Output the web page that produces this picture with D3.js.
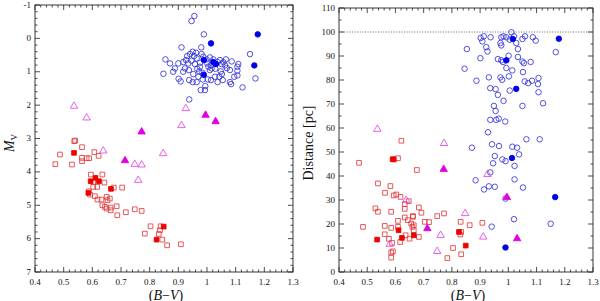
<!DOCTYPE html>
<html>
<head>
<meta charset="utf-8">
<script src="https://cdn.jsdelivr.net/npm/d3@7"></script>
<style>
  body { margin: 0; background: #fff; }
  svg { display: block; }
  .tick-label { font-family: "Liberation Serif", "DejaVu Serif", serif; font-size: 9px; fill: #111; }
  .axis-title { font-family: "Liberation Serif", "DejaVu Serif", serif; font-size: 14px; fill: #111; }
</style>
</head>
<body>
<svg id="chart" width="600" height="301"></svg>
<script>
// x ticks shared by both panels
const bvTicks = [0.4, 0.5, 0.6, 0.7, 0.8, 0.9, 1.0, 1.1, 1.2, 1.3];
const mvTicks = [-1, 0, 1, 2, 3, 4, 5, 6, 7];
const distTicks = [0, 10, 20, 30, 40, 50, 60, 70, 80, 90, 100, 110];

// left panel: [B-V, Mv]
const giantsMv = [
  [0.956,-0.67],[0.946,-0.52],[0.989,-0.12],[0.980,0.27],[0.911,0.27],[1.150,0.47],[1.169,1.20],[1.124,1.47],
  [0.950,0.40],[0.962,0.43],[0.941,0.47],[0.931,0.53],[0.981,0.47],[1.010,0.57],[1.022,0.63],[1.045,0.65],
  [1.066,0.63],[1.086,0.69],[1.057,0.71],[0.855,0.63],[0.871,0.75],[0.900,0.75],[0.917,0.71],[0.927,0.65],
  [0.935,0.75],[0.946,0.67],[0.958,0.77],[0.976,0.73],[1.001,0.75],[1.013,0.81],[1.037,0.71],[1.051,0.77],
  [1.109,0.77],[1.106,0.85],[0.888,0.90],[0.848,1.06],[0.923,0.90],[0.937,0.95],[0.966,0.91],[0.973,0.99],
  [0.984,1.03],[1.010,0.95],[1.029,0.91],[1.048,0.99],[1.069,0.89],[1.052,1.07],[1.095,1.15],[1.106,1.11],
  [1.080,1.31],[1.084,1.37],[0.901,1.21],[0.908,1.29],[0.938,1.25],[0.950,1.31],[0.964,1.31],[0.985,1.23],
  [1.003,1.23],[1.014,1.25],[1.037,1.31],[1.055,1.25],[0.978,1.55],[0.993,1.55],[0.994,1.43],[0.938,1.83],
  [0.964,0.60],[0.955,0.53],[0.987,0.55],[0.999,0.63],[1.005,0.85],[0.975,0.85],[1.016,0.90],[1.063,0.81],
  [1.080,0.95],[1.106,0.97],[1.043,1.15],[1.028,1.15],[0.970,1.15],[0.952,1.07],[0.917,1.00],[0.882,1.00]
];
const giantsFilledMv = [[1.014,0.15],[1.177,-0.12],[1.165,0.81],[0.989,0.65],[1.022,0.71],[1.031,0.77],[0.989,1.09]];
const subgiantsMv = [[0.536,2.03],[0.580,2.38],[0.926,2.10],[0.911,2.61],[0.638,3.37],[0.748,3.77],[0.772,3.79],[0.760,4.25],[0.847,3.45]];
const subgiantsFilledMv = [[0.772,2.80],[0.714,3.66],[0.995,2.30],[1.030,2.49]];
const dwarfsMv = [
  [0.537,3.08],[0.540,3.06],[0.487,3.48],[0.471,3.77],[0.529,3.78],[0.564,3.26],[0.564,3.58],[0.564,3.68],
  [0.580,3.59],[0.589,3.59],[0.607,3.41],[0.622,3.52],
  [0.595,4.08],[0.635,4.08],[0.642,4.32],[0.603,4.30],[0.617,4.45],[0.603,4.45],[0.675,4.47],[0.704,4.47],
  [0.588,4.58],[0.592,4.68],[0.609,4.73],[0.618,4.83],[0.632,4.83],[0.650,4.75],[0.653,4.85],[0.661,4.80],
  [0.635,5.00],[0.644,5.05],[0.650,5.10],[0.664,5.07],[0.664,5.15],[0.685,5.03],[0.687,5.30],[0.717,5.21],
  [0.748,5.12],[0.772,5.17],
  [0.803,5.63],[0.783,5.85],[0.838,5.63],[0.836,5.75],[0.832,5.86],[0.844,6.03],[0.861,6.20],[0.909,6.17]
];
const dwarfsFilledMv = [[0.536,3.43],[0.611,4.18],[0.594,4.28],[0.623,4.28],[0.665,4.51],[0.586,4.63],[0.849,5.64],[0.824,6.03]];

// right panel: [B-V, distance in pc]
const giantsDist = [
  [0.902,97.5],[0.908,96.1],[0.913,98.2],[0.937,97.8],[0.975,97.8],[0.983,98.2],[0.993,97.8],[1.011,99.9],
  [1.020,98.2],[1.005,96.8],[1.028,95.4],[1.050,97.1],[1.059,98.2],[1.087,97.8],[1.097,96.4],[1.168,91.6],
  [0.853,92.9],[0.922,93.7],[0.926,91.9],[0.972,95.4],[0.975,94.4],[1.034,92.9],[0.901,89.1],[0.963,88.7],
  [0.975,88.2],[0.981,87.5],[1.001,90.1],[1.034,89.6],[1.050,87.7],[1.055,87.0],[1.079,87.5],[0.845,84.7],
  [0.993,85.0],[1.014,84.0],[1.052,83.3],[0.887,79.7],[0.931,81.1],[0.972,81.1],[0.978,80.1],[1.002,81.5],
  [1.058,79.4],[1.070,78.7],[1.084,79.7],[1.107,80.8],[1.105,78.3],[0.936,76.6],[0.955,76.2],[0.963,73.8],
  [1.005,75.6],[1.107,74.9],[0.983,71.3],[0.949,69.2],[0.955,67.1],[1.050,69.2],[1.123,70.3],[0.936,63.4],
  [0.957,63.4],[0.966,63.9],[0.989,62.7],[0.928,58.2],[0.942,53.2],[0.967,52.5],[1.014,52.2],[1.031,51.8],
  [1.064,55.3],[1.111,55.3],[0.871,51.8],[1.038,49.0],[0.952,48.3],[0.946,45.3],[0.979,46.9],[0.990,46.2],
  [1.022,44.2],[0.936,41.5],[0.884,38.2],[1.022,38.6],[0.914,34.4],[0.931,35.7],[0.952,35.5],[1.052,35.2],
  [0.990,30.6],[1.020,22.0],[1.150,20.1],[0.941,18.9]
];
const giantsFilledDist = [[1.179,97.2],[0.993,88.2],[1.016,97.1],[1.028,76.3],[1.013,47.5],[1.166,31.2],[0.990,10.2]];
const subgiantsDist = [[0.536,59.5],[0.580,11.6],[0.926,40.7],[0.911,14.6],[0.638,29.9],[0.748,8.6],[0.772,53.6],[0.760,15.3],[0.847,24.4]];
const subgiantsFilledDist = [[0.771,42.8],[0.713,18.1],[0.995,31.1],[1.031,13.9]];
const dwarfsDist = [
  [0.621,54.7],[0.471,45.5],[0.609,47.4],[0.676,42.5],[0.538,36.9],[0.582,35.8],[0.563,33.0],[0.603,32.3],
  [0.618,31.3],[0.594,31.9],[0.647,29.5],[0.633,28.3],[0.633,26.3],[0.529,26.5],[0.538,25.1],[0.585,25.1],
  [0.683,26.9],[0.662,23.3],[0.633,22.7],[0.644,21.6],[0.609,21.3],[0.656,20.2],[0.665,19.5],[0.692,24.7],
  [0.704,20.9],[0.719,20.8],[0.748,23.3],[0.772,24.4],[0.485,18.8],[0.562,19.2],[0.585,18.4],[0.609,18.8],
  [0.660,18.8],[0.665,17.4],[0.562,15.7],[0.577,13.8],[0.636,15.3],[0.650,13.9],[0.683,14.6],[0.617,12.5],
  [0.588,12.1],[0.591,8.6],[0.585,8.1],[0.585,6.0],[0.804,10.0],[0.784,5.8],[0.833,7.4],[0.833,16.7],
  [0.830,15.6],[0.831,20.9],[0.863,19.5],[0.908,20.5],[0.662,23.0]
];
const dwarfsFilledDist = [[0.594,46.9],[0.590,47.0],[0.611,17.4],[0.535,13.5],[0.665,15.3],[0.623,14.2],[0.825,16.7],[0.849,11.0]];

const distLimit = 100;

const svg = d3.select("#chart");

const styles = {
    circleOpen:   { shape: "circle",   fill: "none",    stroke: "#3434d8" },
    circleFilled: { shape: "circle",   fill: "#0000ee", stroke: "#0000ee" },
    triOpen:      { shape: "triangle", fill: "none",    stroke: "#e048e8" },
    triFilled:    { shape: "triangle", fill: "#e000e0", stroke: "#e000e0" },
    sqOpen:       { shape: "square",   fill: "none",    stroke: "#e23c3c" },
    sqFilled:     { shape: "square",   fill: "#ee0000", stroke: "#ee0000" }
};

const symbols = {
    circle: d3.symbol(d3.symbolCircle, 24)(),
    square: d3.symbol(d3.symbolSquare, 22)(),
    triangle: d3.symbol(d3.symbolTriangle, 24)()
};

function drawPanel(opts) {
    const x = d3.scaleLinear().domain([0.4, 1.3]).range([opts.left, opts.right]);
    const y = d3.scaleLinear().domain(opts.yDomain).range([opts.bottom, opts.top]);
    const g = svg.append("g");

    const xMinor = d3.range(0, 46).map(i => 0.4 + i * 0.02);
    const yMinor = d3.range(0, opts.yMinorCount + 1).map(i => opts.yDomain[0] + i * opts.yMinorStep);

    const ticks = g.append("g").attr("stroke", "#222").attr("stroke-width", 0.8);
    const tickLen = (major) => major ? 5 : 2.5;

    xMinor.forEach((v, i) => {
        const L = tickLen(i % 5 === 0);
        const px = x(v);
        ticks.append("line").attr("x1", px).attr("x2", px).attr("y1", opts.bottom).attr("y2", opts.bottom - L);
        ticks.append("line").attr("x1", px).attr("x2", px).attr("y1", opts.top).attr("y2", opts.top + L);
    });
    yMinor.forEach((v, i) => {
        const L = tickLen(i % opts.yMinorPerMajor === 0);
        const py = y(v);
        ticks.append("line").attr("x1", opts.left).attr("x2", opts.left + L).attr("y1", py).attr("y2", py);
        ticks.append("line").attr("x1", opts.right).attr("x2", opts.right - L).attr("y1", py).attr("y2", py);
    });

    g.append("rect")
        .attr("x", opts.left).attr("y", opts.top)
        .attr("width", opts.right - opts.left).attr("height", opts.bottom - opts.top)
        .attr("fill", "none").attr("stroke", "#222").attr("stroke-width", 0.9);

    g.selectAll(".xl").data(bvTicks).enter().append("text")
        .attr("class", "tick-label")
        .attr("x", d => x(d)).attr("y", opts.bottom + 13)
        .attr("text-anchor", "middle")
        .text(d => String(+d.toFixed(1)));

    g.selectAll(".yl").data(opts.yTicks).enter().append("text")
        .attr("class", "tick-label")
        .attr("x", opts.left - 4).attr("y", d => y(d) + 2.5)
        .attr("text-anchor", "end")
        .text(d => d);

    if (opts.dotted != null) {
        g.append("line")
            .attr("x1", opts.left).attr("x2", opts.right)
            .attr("y1", y(opts.dotted)).attr("y2", y(opts.dotted))
            .attr("stroke", "#444").attr("stroke-width", 0.8)
            .attr("stroke-dasharray", "1,1.6");
    }

    opts.series.forEach(s => {
        const st = styles[s.style];
        g.append("g").selectAll("path").data(s.data).enter().append("path")
            .attr("d", symbols[st.shape])
            .attr("transform", d => "translate(" + x(d[0]) + "," + y(d[1]) + ")")
            .attr("fill", st.fill)
            .attr("stroke", st.stroke)
            .attr("stroke-width", 0.85);
    });

    // x title
    const xt = g.append("text").attr("class", "axis-title")
        .attr("x", (opts.left + opts.right) / 2 + 2).attr("y", 299.5)
        .attr("text-anchor", "middle");
    xt.append("tspan").text("(");
    xt.append("tspan").attr("font-style", "italic").text("B");
    xt.append("tspan").text("\u2212");
    xt.append("tspan").attr("font-style", "italic").text("V");
    xt.append("tspan").text(")");

    return { g, x, y };
}

const left = drawPanel({
    left: 35, right: 293, top: 5, bottom: 272,
    yDomain: [7, -1], yTicks: mvTicks,
    yMinorCount: 40, yMinorStep: -0.2, yMinorPerMajor: 5,
    series: [
        { data: dwarfsMv, style: "sqOpen" },
        { data: dwarfsFilledMv, style: "sqFilled" },
        { data: subgiantsMv, style: "triOpen" },
        { data: subgiantsFilledMv, style: "triFilled" },
        { data: giantsMv, style: "circleOpen" },
        { data: giantsFilledMv, style: "circleFilled" }
    ]
});

const right = drawPanel({
    left: 339, right: 593, top: 8, bottom: 272,
    yDomain: [0, 110], yTicks: distTicks,
    yMinorCount: 22, yMinorStep: 5, yMinorPerMajor: 2,
    dotted: distLimit,
    series: [
        { data: dwarfsDist, style: "sqOpen" },
        { data: dwarfsFilledDist, style: "sqFilled" },
        { data: giantsDist, style: "circleOpen" },
        { data: giantsFilledDist, style: "circleFilled" },
        { data: subgiantsDist, style: "triOpen" },
        { data: subgiantsFilledDist, style: "triFilled" }
    ]
});

// y titles
const mv = svg.append("text").attr("class", "axis-title")
    .attr("transform", "translate(14,143) rotate(-90)")
    .attr("text-anchor", "middle");
mv.append("tspan").attr("font-style", "italic").text("M");
mv.append("tspan").attr("font-size", "9px").attr("dy", 3).text("V");

svg.append("text").attr("class", "axis-title")
    .attr("transform", "translate(313,143) rotate(-90)")
    .attr("text-anchor", "middle")
    .text("Distance [pc]");
</script>
</body>
</html>
